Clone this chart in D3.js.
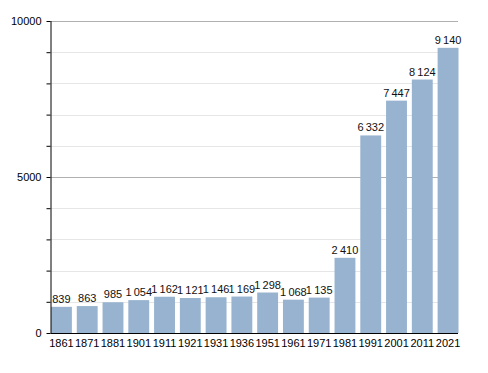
<!DOCTYPE html>
<html><head><meta charset="utf-8">
<script src="https://cdn.jsdelivr.net/npm/d3@7"></script>
<style>body{margin:0;background:#fff}text{font-family:"Liberation Sans",Arial,sans-serif}</style>
</head><body>
<svg id="c" width="488" height="373"></svg>
<script>
const years = ["1861","1871","1881","1901","1911","1921","1931","1936","1951","1961","1971","1981","1991","2001","2011","2021"];
const population = [839,863,985,1054,1162,1121,1146,1169,1298,1068,1135,2410,6332,7447,8124,9140];
const majorTicks = [0,5000,10000];
const minorTicks = [1000,2000,3000,4000,6000,7000,8000,9000];

const svg = d3.select("#c");
const x0 = 50.5, x1 = 458, yTop = 21, yBot = 333;
const x = d3.scaleBand().domain(years).range([x0+0.5, x1+0.5]).paddingInner(0.19).paddingOuter(0);
const y = d3.scaleLinear().domain([0,10000]).range([yBot, yTop]);
const fmt = v => { const s = String(v); return s.length > 3 ? s.slice(0, s.length-3) + "\u2009" + s.slice(-3) : s; };

svg.append("g").selectAll("line").data(minorTicks).join("line")
  .attr("x1", x0).attr("x2", x1).attr("y1", d => Math.round(y(d))+0.5).attr("y2", d => Math.round(y(d))+0.5)
  .attr("stroke", "#e6e6e6").attr("stroke-width", 1);
svg.append("g").selectAll("line").data(majorTicks.filter(d=>d>0)).join("line")
  .attr("x1", x0).attr("x2", x1).attr("y1", d => Math.round(y(d))+0.5).attr("y2", d => Math.round(y(d))+0.5)
  .attr("stroke", "#b0b0b0").attr("stroke-width", 1);

svg.append("g").selectAll("rect").data(population).join("rect")
  .attr("x", (d,i) => x(years[i])).attr("width", x.bandwidth())
  .attr("y", d => y(d)).attr("height", d => yBot - y(d))
  .attr("fill", "#98b3cf");

svg.append("g").selectAll("text").data(population).join("text")
  .attr("x", (d,i) => x(years[i]) + x.bandwidth()/2).attr("y", d => y(d) - 4)
  .attr("text-anchor", "middle").attr("font-size", 11).attr("fill", "#111")
  .text(fmt);

// y axis
const ya = svg.append("g").attr("transform", `translate(${x0},0)`)
  .call(d3.axisLeft(y).tickValues(d3.range(0,10001,1000)).tickSize(4).tickFormat(d => majorTicks.includes(d) ? d : ""));
ya.select(".domain").attr("stroke", "#000").attr("d", `M0.5,${yTop}V${yBot}`);
ya.selectAll(".tick line").attr("stroke", "#000");
ya.selectAll(".tick text").attr("font-size", 11).attr("fill", "#000").attr("x", -9).attr("font-family", '"Liberation Sans",Arial,sans-serif');

// x axis
const xa = svg.append("g").attr("transform", `translate(0,${yBot})`)
  .call(d3.axisBottom(x).tickSize(0));
xa.select(".domain").attr("stroke", "#000").attr("d", `M${x0},0.5H${x1}`);
xa.selectAll(".tick text").attr("font-size", 11).attr("fill", "#000").attr("dy", "0.95em").attr("y", 4).attr("font-family", '"Liberation Sans",Arial,sans-serif');
</script>
</body></html>
